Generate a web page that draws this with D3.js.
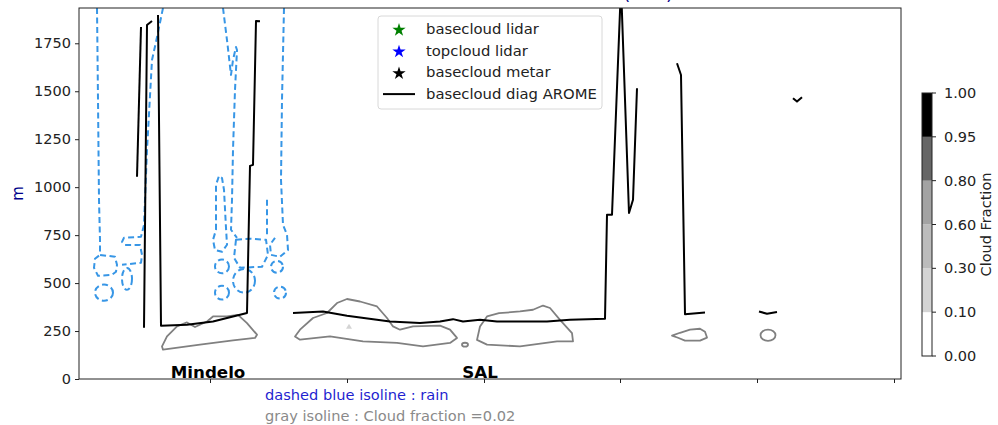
<!DOCTYPE html>
<html>
<head>
<meta charset="utf-8">
<script src="https://cdn.jsdelivr.net/npm/d3@7"></script>
<style>
  body { margin: 0; background: #fff; }
  text { font-family: "DejaVu Sans", sans-serif; }
</style>
</head>
<body>
<div id="chart"></div>
<script>

// x : distance along track (no labels on the axis), y : height in m
var xTicks = [131, 268, 405, 541, 678, 815];
var yTicks = [0, 250, 500, 750, 1000, 1250, 1500, 1750];

// basecloud diag AROME, one list per piece (gaps = missing values)
var baseDiag = [
    [[58, 1054], [62, 1835]],
    [[65, 267], [68, 1845], [73, 1866]],
    [[79, 1897], [82, 278], [108, 283], [134, 300], [168, 344], [171, 1111], [174, 1116], [177, 1866], [181, 1865]],
    [[214, 344], [244, 352], [268, 330], [311, 300], [341, 292], [361, 300], [374, 312], [384, 300],
     [401, 309], [418, 300], [468, 300], [491, 309], [526, 314], [528, 856], [533, 856], [542, 2050],
     [550, 865], [554, 934], [558, 1516]],
    [[598, 1646], [602, 1585], [606, 338], [626, 347]],
    [[680, 352], [688, 340], [698, 349]],
    [[714, 1464], [718, 1446], [723, 1469]]
];

// gray isoline, cloud fraction = 0.02
var cloudIso = [
    [[83, 170], [84, 153], [121, 179], [154, 201], [176, 214], [178, 231], [168, 291], [159, 334],
     [148, 326], [134, 326], [128, 300], [116, 271], [108, 295], [98, 274], [88, 222]],
    [[216, 222], [221, 205], [251, 222], [284, 196], [318, 188], [344, 170], [371, 188], [378, 214],
     [371, 257], [361, 278], [334, 274], [321, 257], [314, 274], [308, 318], [298, 378], [281, 404],
     [268, 417], [258, 396], [248, 344], [234, 318], [221, 257]],
    [[398, 204], [401, 274], [408, 326], [420, 343], [441, 352], [454, 361], [464, 383], [471, 370],
     [481, 308], [493, 239], [494, 196], [478, 196], [441, 170], [408, 179]],
    [[593, 226], [601, 241], [611, 257], [621, 262], [626, 246], [628, 216], [621, 200], [606, 200], [599, 215]]
];
// small closed gray isolines: [x, y, half width, half height]
var cloudDots = [[386, 179, 3, 10], [689, 228, 7.5, 29]];
// tiny filled patch (fraction > 0.1)
var cloudFill = [[267, 262], [270, 288], [273, 262]];

// dashed blue isoline : rain
var rainIso = [
    {closed: false, pts: [[18, 1934], [19, 1455], [20, 934], [21, 725], [21, 647], [36, 637], [38, 595],
        [37, 559], [33, 543], [19, 538], [15, 580], [16, 627], [21, 647]]},
    {closed: false, pts: [[84, 1934], [77, 1757], [73, 1663], [68, 1194], [65, 803], [62, 741], [45, 736],
        [43, 715], [46, 699], [61, 699], [63, 647], [62, 606], [43, 595]]},
    {closed: false, pts: [[144, 1934], [148, 1767], [152, 1585], [154, 1663], [157, 1731], [158, 1715],
        [156, 1507], [154, 1194], [153, 934], [152, 778], [158, 736]]},
    {closed: true, pts: [[157, 726], [171, 731], [187, 726], [189, 647], [183, 585], [161, 580], [155, 632]]},
    {closed: true, pts: [[137, 778], [137, 1012], [140, 1059], [143, 1048], [145, 986], [147, 788],
        [148, 700], [143, 663], [136, 673], [134, 725]]},
    {closed: false, pts: [[188, 934], [188, 741]]},
    {closed: false, pts: [[205, 1934], [203, 1455], [202, 1038], [204, 804], [208, 752], [209, 673],
        [201, 637], [192, 647], [191, 700], [196, 736]]}
];
var rainDots = [[25, 450, 9, 42], [48, 522, 5, 57], [143, 587, 7, 36], [143, 450, 7, 36],
    [165, 512, 11, 62], [198, 585, 6, 31], [201, 450, 6, 31]];

var places = [{name: "Mindelo", x: 129}, {name: "SAL", x: 401}];

var cfBounds = [0.00, 0.10, 0.30, 0.60, 0.80, 0.95, 1.00];
var cfColors = ["#ffffff", "#d4d4d4", "#bcbcbc", "#a3a3a3", "#666666", "#000000"];

var legendItems = [
    {label: "basecloud lidar", type: "star", color: "green"},
    {label: "topcloud lidar", type: "star", color: "blue"},
    {label: "basecloud metar", type: "star", color: "black"},
    {label: "basecloud diag AROME", type: "line", color: "black"}
];

var W = 998, H = 425;
var margin = {left: 79, right: 97, top: 8, bottom: 46};

var svg = d3.select("#chart").append("svg")
    .attr("width", W)
    .attr("height", H);

var x = d3.scaleLinear().domain([0, 822]).range([margin.left, W - margin.right]);
var y = d3.scaleLinear().domain([0, 1934]).range([H - margin.bottom, margin.top]);

svg.append("clipPath").attr("id", "plotclip")
    .append("rect")
    .attr("x", x(0)).attr("y", y(1934))
    .attr("width", x(822) - x(0)).attr("height", y(0) - y(1934));

var plot = svg.append("g").attr("clip-path", "url(#plotclip)");

var line = d3.line()
    .x(function(d) { return x(d[0]); })
    .y(function(d) { return y(d[1]); });

// cloud fraction filled patch
plot.append("path")
    .attr("d", line(cloudFill) + "Z")
    .attr("fill", "#d4d4d4");

// gray isolines
plot.selectAll(".cloud")
    .data(cloudIso)
    .enter().append("path")
    .attr("class", "cloud")
    .attr("d", function(d) { return line(d) + "Z"; })
    .attr("fill", "none")
    .attr("stroke", "#808080")
    .attr("stroke-width", 1.8)
    .attr("stroke-linejoin", "round");

plot.selectAll(".clouddot")
    .data(cloudDots)
    .enter().append("ellipse")
    .attr("cx", function(d) { return x(d[0]); })
    .attr("cy", function(d) { return y(d[1]); })
    .attr("rx", function(d) { return x(d[2]) - x(0); })
    .attr("ry", function(d) { return y(0) - y(d[3]); })
    .attr("fill", "none")
    .attr("stroke", "#808080")
    .attr("stroke-width", 1.8);

// rain isolines (dashed)
plot.selectAll(".rain")
    .data(rainIso)
    .enter().append("path")
    .attr("class", "rain")
    .attr("d", function(d) { return line(d.pts) + (d.closed ? "Z" : ""); })
    .attr("fill", "none")
    .attr("stroke", "#3796e6")
    .attr("stroke-width", 2)
    .attr("stroke-dasharray", "6,3.5")
    .attr("stroke-linejoin", "round");

plot.selectAll(".raindot")
    .data(rainDots)
    .enter().append("ellipse")
    .attr("cx", function(d) { return x(d[0]); })
    .attr("cy", function(d) { return y(d[1]); })
    .attr("rx", function(d) { return x(d[2]) - x(0); })
    .attr("ry", function(d) { return y(0) - y(d[3]); })
    .attr("fill", "none")
    .attr("stroke", "#3796e6")
    .attr("stroke-width", 2)
    .attr("stroke-dasharray", "6,3.5");

// basecloud diag AROME
plot.selectAll(".diag")
    .data(baseDiag)
    .enter().append("path")
    .attr("class", "diag")
    .attr("d", line)
    .attr("fill", "none")
    .attr("stroke", "black")
    .attr("stroke-width", 2)
    .attr("stroke-linejoin", "round");

// axes
svg.append("g")
    .attr("transform", "translate(0," + y(0) + ")")
    .call(d3.axisBottom(x).tickValues(xTicks).tickFormat("").tickSize(4).tickSizeOuter(0));

svg.append("g")
    .attr("transform", "translate(" + x(0) + ",0)")
    .call(d3.axisLeft(y).tickValues(yTicks).tickFormat(d3.format("d")).tickSize(4).tickSizeOuter(0).tickPadding(4))
    .call(function(g) { g.selectAll("text").attr("font-size", 14.5).attr("fill", "#222"); });

svg.selectAll(".domain").remove();
svg.selectAll(".tick line").attr("stroke", "#222");

svg.append("rect")
    .attr("x", x(0)).attr("y", y(1934))
    .attr("width", x(822) - x(0)).attr("height", y(0) - y(1934))
    .attr("fill", "none")
    .attr("stroke", "#222")
    .attr("stroke-width", 1);

// place names
svg.selectAll(".place")
    .data(places)
    .enter().append("text")
    .attr("x", function(d) { return x(d.x); })
    .attr("y", y(0) - 1)
    .attr("text-anchor", "middle")
    .attr("font-size", 16.7)
    .attr("font-weight", "bold")
    .text(function(d) { return d.name; });

// title, sits above the page, only the bottom of the brackets shows
svg.append("text")
    .attr("x", 673).attr("y", -0.5)
    .attr("text-anchor", "end")
    .attr("font-size", 18)
    .attr("fill", "#00008b")
    .text("AROME Cloud base and rain 2022 (UTC)");

// y label
svg.append("text")
    .attr("transform", "translate(23," + y(967) + ") rotate(-90)")
    .attr("text-anchor", "middle")
    .attr("font-size", 15)
    .attr("fill", "#00008b")
    .text("m");

// notes under the axis
svg.append("text")
    .attr("x", 265).attr("y", 400)
    .attr("font-size", 14.6)
    .attr("fill", "#1f1fd0")
    .text("dashed blue isoline : rain");
svg.append("text")
    .attr("x", 265).attr("y", 421)
    .attr("font-size", 14.6)
    .attr("fill", "#8a8a8a")
    .text("gray isoline : Cloud fraction =0.02");

// legend
var leg = svg.append("g").attr("transform", "translate(378,16)");
leg.append("rect")
    .attr("width", 224).attr("height", 93)
    .attr("rx", 3)
    .attr("fill", "white").attr("fill-opacity", 0.8)
    .attr("stroke", "#d8d8d8");

var row = leg.selectAll(".row")
    .data(legendItems)
    .enter().append("g")
    .attr("class", "row")
    .attr("transform", function(d, i) { return "translate(0," + (13 + i * 21.7) + ")"; });

row.filter(function(d) { return d.type == "star"; })
    .append("path")
    .attr("transform", "translate(21,1)")
    .attr("d", d3.symbol().type(d3.symbolStar).size(55))
    .attr("fill", function(d) { return d.color; });

row.filter(function(d) { return d.type == "line"; })
    .append("line")
    .attr("x1", 5).attr("x2", 37)
    .attr("stroke", function(d) { return d.color; })
    .attr("stroke-width", 2);

row.append("text")
    .attr("x", 48).attr("y", 5)
    .attr("font-size", 14.8)
    .attr("fill", "#222")
    .text(function(d) { return d.label; });

// colorbar
var cb = d3.scaleLinear().domain([0, cfBounds.length - 1]).range([356, 93]);
var cbar = svg.append("g");
cbar.selectAll("rect")
    .data(cfColors)
    .enter().append("rect")
    .attr("x", 922).attr("width", 10)
    .attr("y", function(d, i) { return cb(i + 1); })
    .attr("height", function(d, i) { return cb(i) - cb(i + 1); })
    .attr("fill", function(d) { return d; });
cbar.append("rect")
    .attr("x", 922).attr("y", cb(cfBounds.length - 1))
    .attr("width", 10).attr("height", cb(0) - cb(cfBounds.length - 1))
    .attr("fill", "none").attr("stroke", "#222");

var cbTick = cbar.selectAll(".cbtick")
    .data(cfBounds)
    .enter().append("g")
    .attr("transform", function(d, i) { return "translate(932," + cb(i) + ")"; });
cbTick.append("line").attr("x2", 4).attr("stroke", "#222");
cbTick.append("text")
    .attr("x", 12).attr("dy", "0.35em")
    .attr("font-size", 14.5)
    .attr("fill", "#222")
    .text(function(d) { return d.toFixed(2); });

svg.append("text")
    .attr("transform", "translate(991," + cb(3) + ") rotate(-90)")
    .attr("text-anchor", "middle")
    .attr("font-size", 14.5)
    .attr("fill", "#222")
    .text("Cloud Fraction");

</script>
</body>
</html>
